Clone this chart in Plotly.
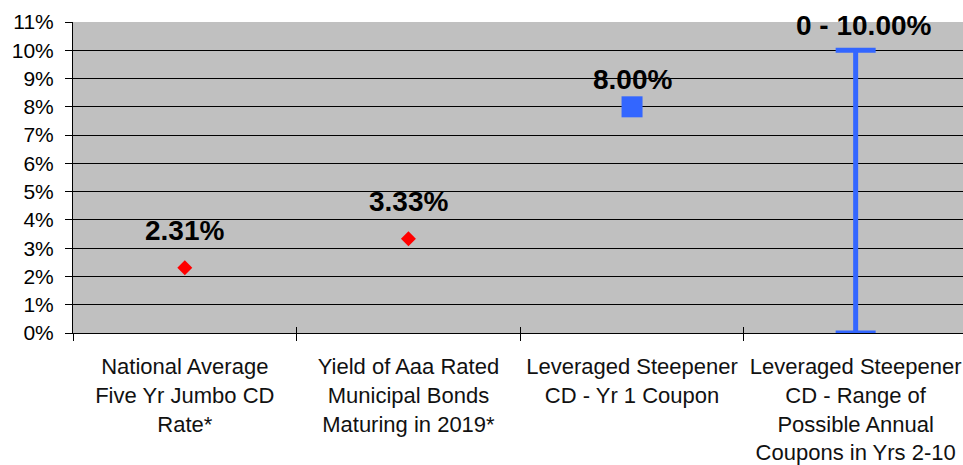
import plotly.graph_objects as go

categories = [
    "National Average<br>Five Yr Jumbo CD<br>Rate*",
    "Yield of Aaa Rated<br>Municipal Bonds<br>Maturing in 2019*",
    "Leveraged Steepener<br>CD - Yr 1 Coupon",
    "Leveraged Steepener<br>CD - Range of<br>Possible Annual<br>Coupons in Yrs 2-10",
]
benchmark_idx = [0, 1]
benchmark_vals = [2.31, 3.33]
yr1_idx = [2]
yr1_vals = [8.00]
range_idx = [3]
range_low = [0.0]
range_high = [10.0]
y_ticks = list(range(0, 12))

FONT = "Arial, Liberation Sans, sans-serif"
BLUE = "#3366FF"

fig = go.Figure()

fig.add_trace(go.Scatter(
    x=benchmark_idx, y=benchmark_vals, mode="markers",
    marker=dict(symbol="diamond", size=11.5, color="#FF0000", line=dict(width=0)),
    showlegend=False, hoverinfo="skip"))

fig.add_trace(go.Scatter(
    x=yr1_idx, y=yr1_vals, mode="markers",
    marker=dict(symbol="square", size=21, color=BLUE, line=dict(width=0)),
    showlegend=False, hoverinfo="skip"))

mid = [(lo + hi) / 2 for lo, hi in zip(range_low, range_high)]
half = [(hi - lo) / 2 for lo, hi in zip(range_low, range_high)]
fig.add_trace(go.Scatter(
    x=range_idx, y=mid, mode="markers",
    marker=dict(size=1, opacity=0),
    error_y=dict(type="data", array=half, symmetric=True, thickness=5, width=20, color=BLUE),
    showlegend=False, hoverinfo="skip"))

# helper traces for the boundary tick axes
fig.add_trace(go.Scatter(x=[None], y=[None], xaxis="x2", showlegend=False, hoverinfo="skip"))
fig.add_trace(go.Scatter(x=[None], y=[None], xaxis="x3", showlegend=False, hoverinfo="skip"))

annotations = []
for i, v in zip(benchmark_idx, benchmark_vals):
    annotations.append(dict(x=i, y=v, text=f"<b>{v:.2f}%</b>", showarrow=False,
                            yshift=37, font=dict(family=FONT, size=28, color="#000000")))
for i, v in zip(yr1_idx, yr1_vals):
    annotations.append(dict(x=i, y=v, text=f"<b>{v:.2f}%</b>", showarrow=False,
                            yshift=27, font=dict(family=FONT, size=28, color="#000000")))
for i, lo, hi in zip(range_idx, range_low, range_high):
    annotations.append(dict(x=i, y=hi, text=f"<b>{lo:g} - {hi:.2f}%</b>", showarrow=False,
                            xshift=8, yshift=25, font=dict(family=FONT, size=28, color="#000000")))

boundaries = [-0.5, 0.5, 1.5, 2.5]
xr = [-0.5, 3.48]

fig.update_layout(
    width=963, height=465,
    margin=dict(l=73, r=0, t=22, b=132, autoexpand=False),
    paper_bgcolor="white", plot_bgcolor="#C0C0C0",
    font=dict(family=FONT, size=21, color="#000000"),
    annotations=annotations,
    xaxis=dict(range=xr, tickmode="array", tickvals=list(range(len(categories))),
               ticktext=categories, ticks="", showgrid=False, zeroline=False,
               showline=True, linecolor="#000000", linewidth=1, automargin=False,
               tickfont=dict(family=FONT, size=22, color="#111111"), fixedrange=True,
               ticklabelstandoff=14),
    xaxis2=dict(overlaying="x", matches="x", side="bottom", tickmode="array",
                tickvals=boundaries, ticks="outside", ticklen=7, tickcolor="#000000",
                showticklabels=False, showgrid=False, zeroline=False, showline=False),
    xaxis3=dict(overlaying="x", matches="x", side="bottom", tickmode="array",
                tickvals=boundaries, ticks="inside", ticklen=6, tickcolor="#000000",
                showticklabels=False, showgrid=False, zeroline=False, showline=False),
    yaxis=dict(range=[0, 11], tickmode="array", tickvals=y_ticks,
               ticktext=[f"{t}%" for t in y_ticks], ticks="outside", ticklen=7,
               tickcolor="#000000", showgrid=True, gridcolor="#000000", gridwidth=1,
               zeroline=False, showline=True, linecolor="#000000", linewidth=1,
               tickfont=dict(family=FONT, size=21, color="#000000"), automargin=False,
               ticklabelstandoff=7, fixedrange=True),
)

fig.write_html("out.html", config={"displayModeBar": False, "staticPlot": True})

with open("out.html", "r", encoding="utf-8") as f:
    html = f.read()
html = html.replace("<head>", "<head><style>html,body{margin:0;padding:0;overflow:hidden;}</style>", 1)
with open("out.html", "w", encoding="utf-8") as f:
    f.write(html)
